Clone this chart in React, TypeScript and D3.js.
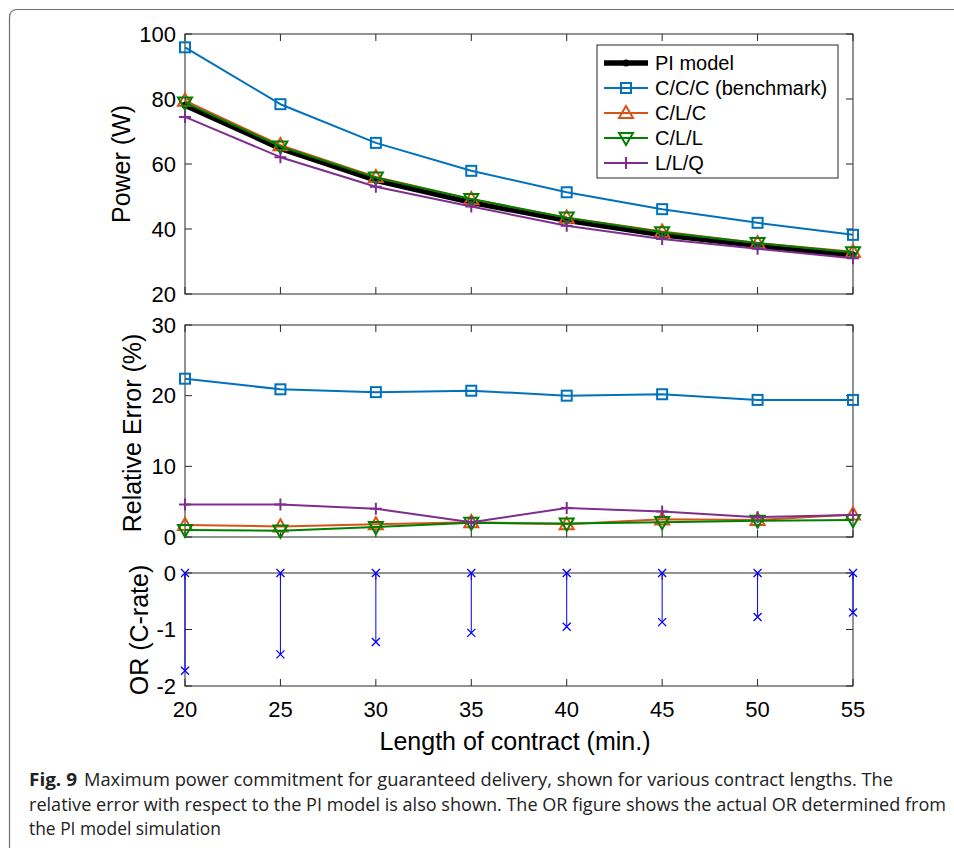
import React from "react";
import * as d3 from "d3";

// contract length (min.)
const contractLengths = [20, 25, 30, 35, 40, 45, 50, 55];

// maximum power commitment (W)
const powerPI = [78.1, 64.8, 55.0, 48.2, 42.7, 38.2, 34.9, 32.0];
const powerCCC = [95.9, 78.4, 66.5, 57.9, 51.3, 46.1, 41.9, 38.2];
const powerCLC = [79.5, 65.8, 56.0, 49.2, 43.5, 39.2, 35.7, 33.0];
const powerCLL = [78.9, 65.4, 55.8, 49.2, 43.5, 39.0, 35.7, 32.8];
const powerLLQ = [74.5, 62.1, 53.0, 46.9, 41.0, 36.9, 33.9, 31.0];

// relative error w.r.t. PI model (%)
const errCCC = [22.4, 20.9, 20.5, 20.7, 20.0, 20.2, 19.4, 19.4];
const errCLC = [1.7, 1.5, 1.8, 2.1, 1.8, 2.5, 2.4, 3.2];
const errCLL = [1.0, 0.9, 1.4, 2.0, 1.9, 2.1, 2.3, 2.4];
const errLLQ = [4.6, 4.6, 4.0, 2.1, 4.1, 3.6, 2.8, 3.1];

// OR (C-rate) from PI model simulation
const orValues = [-1.73, -1.44, -1.22, -1.06, -0.95, -0.87, -0.78, -0.7];

const seriesNames = ["PI model", "C/C/C (benchmark)", "C/L/C", "C/L/L", "L/L/Q"];
const xTicks = [20, 25, 30, 35, 40, 45, 50, 55];
const powerTicks = [20, 40, 60, 80, 100];
const errTicks = [0, 10, 20, 30];
const orTicks = [-2, -1, 0];

const captionLabel = "Fig. 9";
const captionLines = [
  "Maximum power commitment for guaranteed delivery, shown for various contract lengths. The",
  "relative error with respect to the PI model is also shown. The OR figure shows the actual OR determined from",
  "the PI model simulation",
];

const W = 954;
const H = 848;
const left = 185;
const right = 853;
const axisColor = "#262626";
const font = "'Liberation Sans', Arial, Helvetica, sans-serif";
const capFont = "'Open Sans', sans-serif";

const colors = ["#000000", "#0072BD", "#D95319", "#008000", "#7E2F8E"];
const markers = ["circle", "square", "up", "down", "plus"];

const x = d3.scaleLinear().domain([20, 55]).range([left, right]);
const yPow = d3.scaleLinear().domain([20, 100]).range([294, 34]);
const yErr = d3.scaleLinear().domain([0, 30]).range([537, 325]);
const yOr = d3.scaleLinear().domain([-2, 0]).range([686, 573]);

function Marker({ kind, cx, cy, color }: { kind: string; cx: number; cy: number; color: string }) {
  if (kind === "circle") return <circle cx={cx} cy={cy} r={3.5} fill={color} />;
  if (kind === "square")
    return <rect x={cx - 5} y={cy - 5} width={10} height={10} fill="none" stroke={color} strokeWidth={2} />;
  if (kind === "up") {
    const p = d3.symbol().type(d3.symbolTriangle).size(85)() as string;
    return <path d={p} transform={`translate(${cx},${cy + 1})`} fill="none" stroke={color} strokeWidth={2} />;
  }
  if (kind === "down") {
    const p = d3.symbol().type(d3.symbolTriangle).size(85)() as string;
    return <path d={p} transform={`translate(${cx},${cy - 1}) rotate(180)`} fill="none" stroke={color} strokeWidth={2} />;
  }
  if (kind === "plus")
    return <path d={`M${cx - 6},${cy}H${cx + 6}M${cx},${cy - 6}V${cy + 6}`} stroke={color} strokeWidth={2} />;
  if (kind === "x")
    return <path d={`M${cx - 4},${cy - 4}L${cx + 4},${cy + 4}M${cx - 4},${cy + 4}L${cx + 4},${cy - 4}`} stroke={color} strokeWidth={1.3} />;
  return null;
}

function Frame({ yScale, ticks, top, bottom }: any) {
  const tl = 7;
  return (
    <g>
      <rect x={left} y={top} width={right - left} height={bottom - top} fill="none" stroke={axisColor} strokeWidth={1} />
      {ticks.map((t: number) => (
        <g key={t}>
          <line x1={left} x2={left + tl} y1={yScale(t)} y2={yScale(t)} stroke={axisColor} />
          <line x1={right} x2={right - tl} y1={yScale(t)} y2={yScale(t)} stroke={axisColor} />
          <text x={left - 9} y={yScale(t)} textAnchor="end" dominantBaseline="central" fontSize={22} fontFamily={font} fill="#000">
            {t}
          </text>
        </g>
      ))}
      {xTicks.map((t) => (
        <g key={t}>
          <line x1={x(t)} x2={x(t)} y1={bottom} y2={bottom - tl} stroke={axisColor} />
          <line x1={x(t)} x2={x(t)} y1={top} y2={top + tl} stroke={axisColor} />
        </g>
      ))}
    </g>
  );
}

export default function App() {
  const powerSeries = [powerPI, powerCCC, powerCLC, powerCLL, powerLLQ];
  const errSeries = [null, errCCC, errCLC, errCLL, errLLQ];
  const linePow = d3.line<number>().x((_, i) => x(contractLengths[i])).y((d) => yPow(d));
  const lineErr = d3.line<number>().x((_, i) => x(contractLengths[i])).y((d) => yErr(d));

  return (
    <svg width={W} height={H} style={{ position: "absolute", left: 0, top: 0, background: "#fff" }}>
      <rect x={0} y={0} width={W} height={H} fill="#fff" />
      {/* outer figure frame */}
      <path d={`M9.5,${H + 10}V17.5Q9.5,9.5 17.5,9.5H${W + 10}`} fill="none" stroke="#6e6e6e" strokeWidth={1.2} />

      {/* top panel: power */}
      <Frame yScale={yPow} ticks={powerTicks} top={34} bottom={294} />
      {powerSeries.map((s, k) => (
        <g key={k}>
          <path d={linePow(s) as string} fill="none" stroke={colors[k]} strokeWidth={k === 0 ? 5.5 : 2} strokeLinejoin="round" />
          {s.map((v, i) => (
            <Marker key={i} kind={markers[k]} cx={x(contractLengths[i])} cy={yPow(v)} color={colors[k]} />
          ))}
        </g>
      ))}
      <text transform={`translate(121,164) rotate(-90)`} textAnchor="middle" dominantBaseline="central" fontSize={25} fontFamily={font}>
        Power (W)
      </text>

      {/* legend */}
      <rect x={597} y={45} width={241} height={133} fill="#fff" stroke={axisColor} strokeWidth={1} />
      {seriesNames.map((n, k) => {
        const cy = 63 + k * 25;
        return (
          <g key={n}>
            <line x1={604} x2={648} y1={cy} y2={cy} stroke={colors[k]} strokeWidth={k === 0 ? 5.5 : 2} />
            <Marker kind={markers[k]} cx={626} cy={cy} color={colors[k]} />
            <text x={655} y={cy} dominantBaseline="central" fontSize={20} fontFamily={font}>
              {n}
            </text>
          </g>
        );
      })}

      {/* middle panel: relative error */}
      <Frame yScale={yErr} ticks={errTicks} top={325} bottom={537} />
      {errSeries.map((s, k) =>
        s ? (
          <g key={k}>
            <path d={lineErr(s) as string} fill="none" stroke={colors[k]} strokeWidth={2} strokeLinejoin="round" />
            {s.map((v, i) => (
              <Marker key={i} kind={markers[k]} cx={x(contractLengths[i])} cy={yErr(v)} color={colors[k]} />
            ))}
          </g>
        ) : null
      )}
      <text transform={`translate(132,433) rotate(-90)`} textAnchor="middle" dominantBaseline="central" fontSize={25} fontFamily={font}>
        Relative Error (%)
      </text>

      {/* bottom panel: OR */}
      <Frame yScale={yOr} ticks={orTicks} top={573} bottom={686} />
      {orValues.map((v, i) => {
        const cx = x(contractLengths[i]);
        return (
          <g key={i}>
            <line x1={cx} x2={cx} y1={yOr(0)} y2={yOr(v)} stroke="#0000ff" strokeWidth={1} />
            <Marker kind="x" cx={cx} cy={yOr(0)} color="#0000ff" />
            <Marker kind="x" cx={cx} cy={yOr(v)} color="#0000ff" />
          </g>
        );
      })}
      <text transform={`translate(139,630) rotate(-90)`} textAnchor="middle" dominantBaseline="central" fontSize={25} fontFamily={font}>
        OR (C-rate)
      </text>
      {xTicks.map((t) => (
        <text key={t} x={x(t)} y={709} textAnchor="middle" dominantBaseline="central" fontSize={22} fontFamily={font}>
          {t}
        </text>
      ))}
      <text x={515} y={741} textAnchor="middle" dominantBaseline="central" fontSize={25} fontFamily={font}>
        Length of contract (min.)
      </text>

      {/* caption */}
      <text x={29} y={786} fontSize={18} fontWeight="bold" fontFamily={capFont} fill="#222" textLength={48} lengthAdjust="spacingAndGlyphs">
        {captionLabel}
      </text>
      <text x={84} y={786} fontSize={18} fontFamily={capFont} fill="#222" textLength={809} lengthAdjust="spacingAndGlyphs">
        {captionLines[0]}
      </text>
      <text x={29} y={810.5} fontSize={18} fontFamily={capFont} fill="#222" textLength={917} lengthAdjust="spacingAndGlyphs">
        {captionLines[1]}
      </text>
      <text x={29} y={835} fontSize={18} fontFamily={capFont} fill="#222" textLength={192} lengthAdjust="spacingAndGlyphs">
        {captionLines[2]}
      </text>
    </svg>
  );
}
